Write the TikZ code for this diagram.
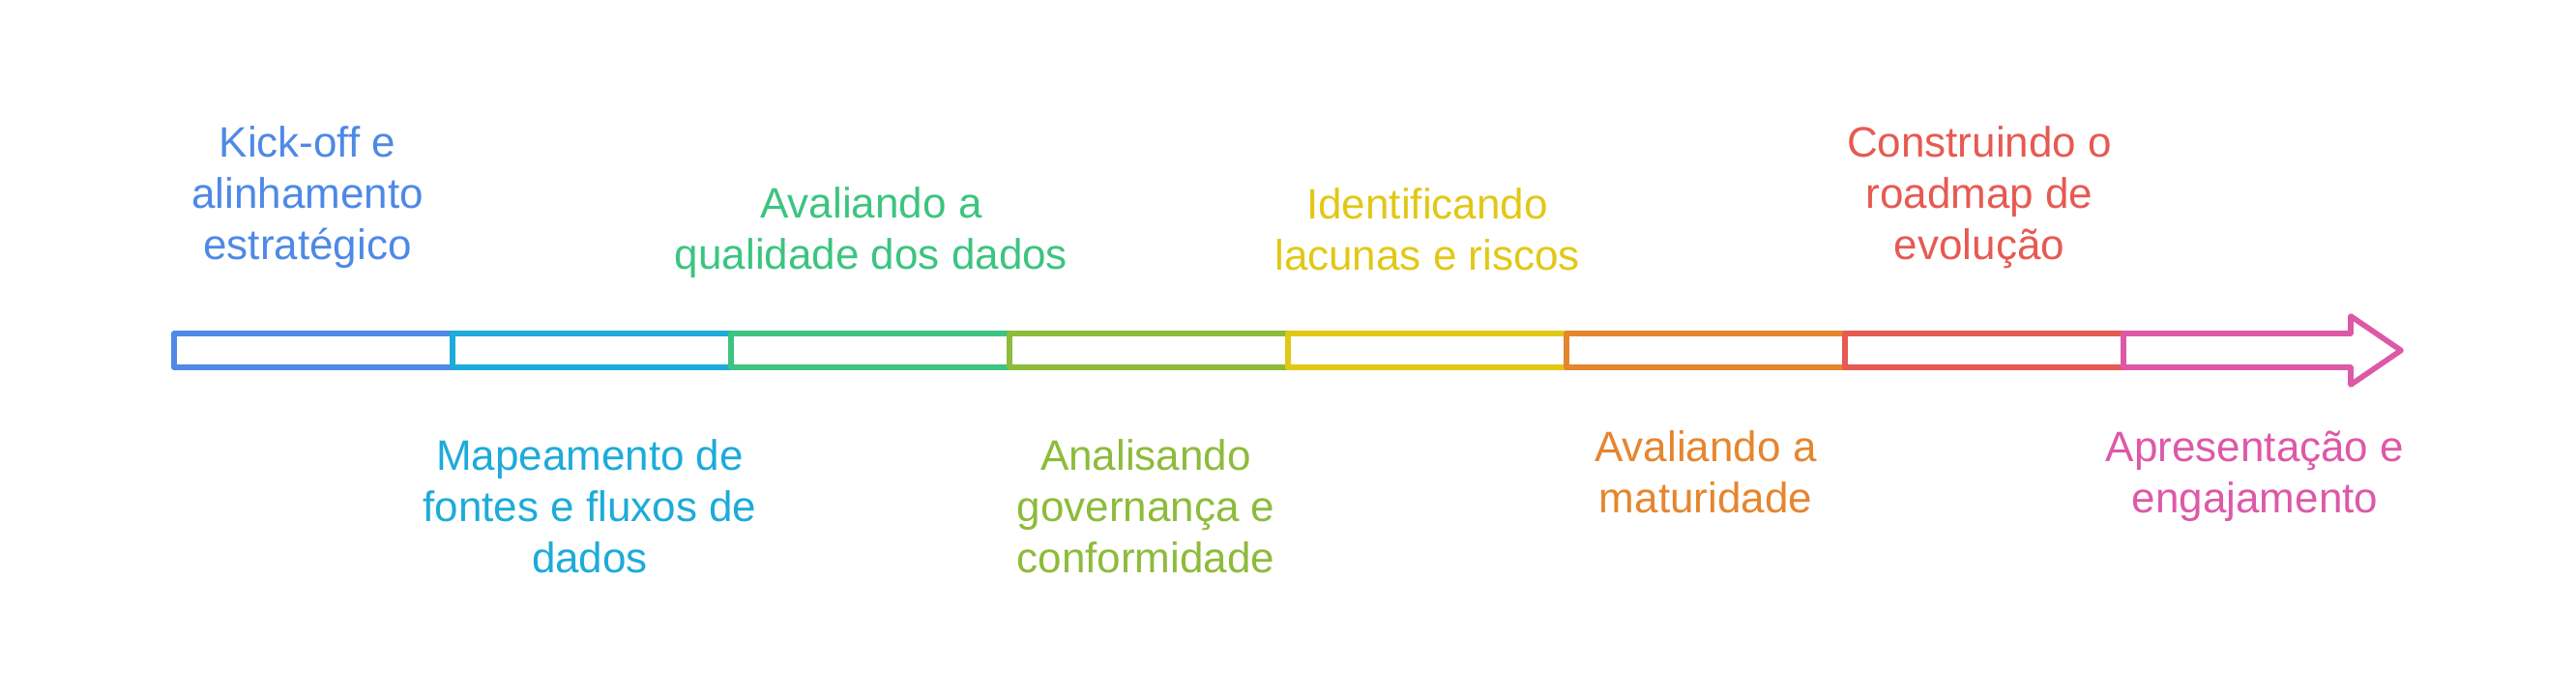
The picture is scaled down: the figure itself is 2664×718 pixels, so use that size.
\documentclass[tikz,border=0pt]{standalone}
\usepackage{fontspec}
\setmainfont{Liberation Sans}
\usetikzlibrary{positioning}
\definecolor{cBlue}{HTML}{4E89E6}
\definecolor{cCyan}{HTML}{1DABD9}
\definecolor{cGreen}{HTML}{3CC480}
\definecolor{cOlive}{HTML}{8DBB3B}
\definecolor{cYellow}{HTML}{E1C817}
\definecolor{cOrange}{HTML}{E5862F}
\definecolor{cRed}{HTML}{E65A52}
\definecolor{cPink}{HTML}{DD59A8}
\tikzset{
  seg/.style={draw=#1, line width=5.7pt, minimum width=288pt, minimum height=35pt,
    inner sep=0pt, outer sep=0pt, line join=round},
  lbl/.style={text=#1, align=center, font=\fontsize{44}{53}\selectfont,
    inner sep=0pt, anchor=base}
}

\begin{document}
\begin{tikzpicture}[x=1pt,y=-1pt]
						\useasboundingbox (0,0) rectangle (2664,718);
						\def\segW{288}
						\foreach \c [count=\i] in {cBlue,cCyan,cGreen,cOlive,cYellow,cOrange,cRed} {
							\node[seg=\c] (s\i) at ({180+\segW*(\i-0.5)},362.5) {};
						}
						\coordinate (tip) at (2483,362.5);
						\draw[cPink, line width=5.7pt, line join=round]
							(s7.north east) -- (2431,345) -- (2431,327) -- (tip)
							-- (2431,398) -- (2431,380) -- (s7.south east) -- cycle;
						% labels above / below the bar (base = last line)
						\node[lbl=cBlue] (t1) at (318,268) {Kick-off e\\alinhamento\\estratégico};
						\node[lbl=cCyan] (t2) at (610,592) {Mapeamento de\\fontes e fluxos de\\dados};
						\node[lbl=cGreen] (t3) at (901,278) {Avaliando a\\qualidade dos dados};
						\node[lbl=cOlive] (t4) at (1185,592) {Analisando\\governança e\\conformidade};
						\node[lbl=cYellow] (t5) at (1476,279) {Identificando\\lacunas e riscos};
						\node[lbl=cOrange] (t6) at (1764,530) {Avaliando a\\maturidade};
						\node[lbl=cRed] (t7) at (2047,268) {Construindo o\\roadmap de\\evolução};
						\node[lbl=cPink] (t8) at (2332,530) {Apresentação e\\engajamento};
					\end{tikzpicture}
\end{document}
